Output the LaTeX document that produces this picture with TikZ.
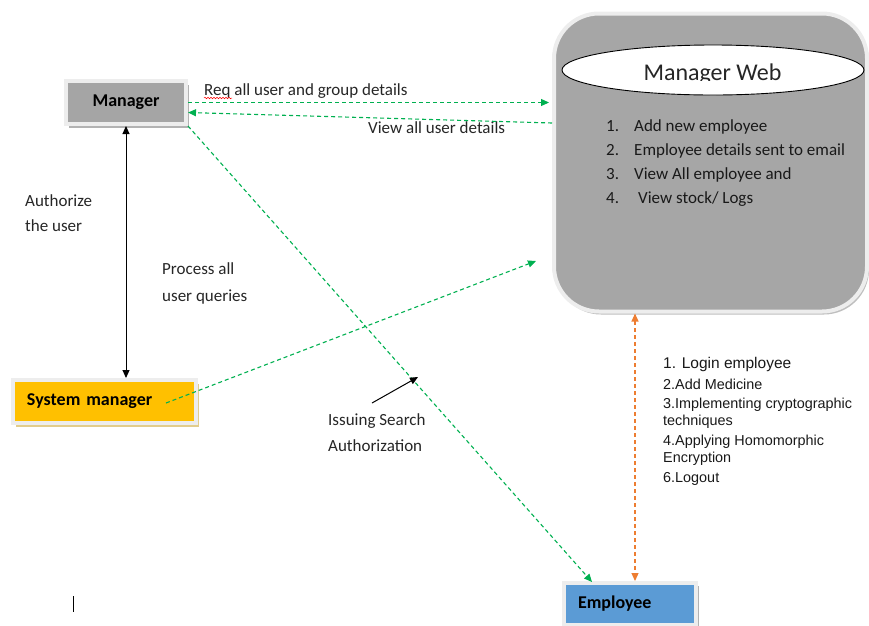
\documentclass[tikz,border=0pt]{standalone}
\usepackage{fontspec}
\setmainfont{Carlito}
\newfontfamily\arialfont{Liberation Sans}
\usetikzlibrary{arrows.meta,shapes.geometric,shadows,decorations.pathmorphing}

\definecolor{mgrgray}{HTML}{A5A5A5}
\definecolor{webgray}{HTML}{A6A6A6}
\definecolor{sysyellow}{HTML}{FFC000}
\definecolor{empblue}{HTML}{5B9BD5}
\definecolor{framegray}{HTML}{EDEDED}
\definecolor{flowgreen}{HTML}{00B050}
\definecolor{floworange}{HTML}{ED7D31}
\definecolor{txt}{HTML}{262626}

\tikzset{
  boxframe/.style={draw=framegray, line width=4pt, inner ysep=0pt,
    font=\fontsize{18}{21}\bfseries\selectfont, text=black},
  webbox/.style={draw=framegray, line width=4pt, fill=webgray, rounded corners=45pt,
    minimum width=313pt, minimum height=298pt,
    drop shadow={shadow xshift=2pt, shadow yshift=-3pt, fill=black!25, opacity=1}},
  lbl/.style={font=\fontsize{17}{20}\selectfont, text=txt, inner sep=0pt, anchor=base west},
  webitem/.style={font=\fontsize{17}{20}\selectfont, text=black!90, inner sep=0pt, anchor=base west},
  logitem/.style={font=\arialfont\fontsize{14.4}{17}\selectfont, text=black!90, inner sep=0pt, anchor=base west},
  tip/.style={-{Triangle[length=8pt,width=7pt]}},
  greenflow/.style={draw=flowgreen, line width=1.1pt, dash pattern=on 4pt off 3pt, tip},
  orangeflow/.style={draw=floworange, line width=1.1pt, dash pattern=on 4pt off 3pt,
    {Triangle[length=8pt,width=7pt]}-{Triangle[length=8pt,width=7pt]}},
  solidflow/.style={draw=black, line width=1pt}
}

\begin{document}
\begin{tikzpicture}[x=1pt,y=-1pt]
\useasboundingbox (0,0) rectangle (869,625);

% ---------- Manager Web container ----------
\node[webbox] (web) at (710.5,162.5) {};
\node[ellipse, draw=black, fill=white, line width=0.9pt, inner sep=0pt,
      minimum width=302pt, minimum height=50pt] (title) at (713,70) {};
\begin{scope}
  \clip (600,48) rectangle (830,80.5);
  \node[font=\fontsize{24}{28}\selectfont, text=txt, inner sep=0pt, anchor=base]
        (titletext) at (712.5,80) {Manager Web};
\end{scope}

\node[webitem] (n1) at (606,131) {1.};
\node[webitem] (t1) at (634,131) {Add new employee};
\node[webitem] (n2) at (606,155) {2.};
\node[webitem] (t2) at (634,155) {Employee details sent to email};
\node[webitem] (n3) at (606,179) {3.};
\node[webitem] (t3) at (634,179) {View All employee and};
\node[webitem] (n4) at (606,203) {4.};
\node[webitem] (t4) at (638,203) {View stock/ Logs};

% ---------- actor boxes ----------
\node[boxframe, fill=mgrgray, minimum width=120pt, minimum height=43pt,
      drop shadow={shadow xshift=3pt, shadow yshift=-4pt, fill=black!30, opacity=1}]
      (mgr) at (126,102.5) {Manager};

\node[boxframe, fill=sysyellow, minimum height=43pt, inner xsep=14pt,
      text width=155pt, align=left,
      drop shadow={shadow xshift=3pt, shadow yshift=-4pt, fill=black!25!sysyellow!45, opacity=1}]
      (sys) at (104.5,401.5) {System manager};

\node[boxframe, fill=empblue, minimum height=42pt, inner xsep=14.5pt,
      text width=103pt, align=left,
      drop shadow={shadow xshift=3pt, shadow yshift=-3pt, fill=black!30, opacity=1}]
      (emp) at (629.5,604) {Employee};

% ---------- labels ----------
\node[lbl] (req) at (204,95) {Req all user and group details};
\draw[red, line width=0.5pt, decorate,
      decoration={snake, amplitude=0.8pt, segment length=3pt}]
      ([yshift=-3pt]req.base west) -- ++(28,0);
\node[lbl] (view) at (368,133) {View all user details};
\node[lbl] (authA) at (25,206) {Authorize};
\node[lbl] (authB) at (25,231) {the user};
\node[lbl] (procA) at (162,274) {Process all};
\node[lbl] (procB) at (162,301) {user queries};
\node[lbl] (issA) at (328,425) {Issuing Search};
\node[lbl] (issB) at (328,451) {Authorization};

\node[logitem, font=\arialfont\fontsize{15.5}{18}\selectfont] (l1) at (663,368) {1. Login employee};
\node[logitem] (l2) at (663,389) {2.Add Medicine};
\node[logitem] (l3) at (663,408) {3.Implementing cryptographic};
\node[logitem] (l4) at (663,425) {techniques};
\node[logitem] (l5) at (663,445) {4.Applying Homomorphic};
\node[logitem] (l6) at (663,462) {Encryption};
\node[logitem] (l7) at (663,482) {6.Logout};

% ---------- connectors ----------
\coordinate (reqEnd) at (549,102.5);
\coordinate (viewStart) at (552,123);
\coordinate (sysOut) at (166,403);
\coordinate (webIn) at (536,261);
\coordinate (empIn) at (592,582);
\coordinate (issFrom) at (372,403);
\coordinate (issTo) at (418,377);
\coordinate (cursorTop) at (73,596);
\coordinate (cursorBot) at (73,612);

\draw[greenflow] (mgr.east) -- (reqEnd);
\draw[greenflow] (viewStart) -- ([yshift=-10pt]mgr.east);
\draw[greenflow] (mgr.south east) -- (empIn);
\draw[greenflow] (sysOut) -- (webIn);
\draw[solidflow, {Triangle[length=8pt,width=7pt]}-{Triangle[length=8pt,width=7pt]}]
     (mgr.south) -- (mgr.south |- sys.north);
\draw[orangeflow] (web.south -| 635,0) -- (emp.north -| 635,0);
\draw[solidflow, tip] (issFrom) -- (issTo);

% text cursor mark
\draw[line width=1pt] (cursorTop) -- (cursorBot);
\end{tikzpicture}
\end{document}
